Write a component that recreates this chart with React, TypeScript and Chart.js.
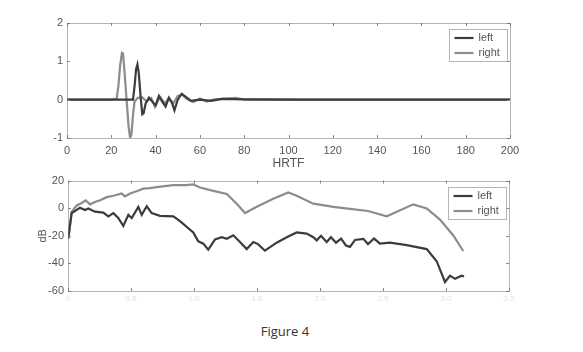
import React, { useEffect, useRef } from "react";
import { Chart, registerables } from "chart.js";

Chart.register(...registerables);

// ---------- Top plot: HRTF impulse responses ----------
const IR_X_TICKS = [0, 20, 40, 60, 80, 100, 120, 140, 160, 180, 200];
const IR_Y_TICKS = [-1, 0, 1, 2];

const IR_X_RIGHT = [0, 20, 22.4, 23.2, 24, 24.8, 25.3, 26, 26.9, 27.8, 28.5, 29.1, 29.8, 30.5, 32, 34, 36, 38, 39.7, 42, 44.2, 46, 48, 50, 52, 54, 57, 60, 63, 66, 70, 76, 80, 90, 110, 140, 200];
const IR_Y_RIGHT = [0, 0, 0.02, 0.35, 0.9, 1.22, 1.2, 0.7, 0.0, -0.7, -1.0, -0.9, -0.4, -0.05, 0.05, 0.06, -0.05, 0.04, -0.19, 0.07, -0.1, 0.05, -0.1, 0.1, 0.13, 0.02, -0.06, 0.03, -0.05, 0.0, 0.02, 0.05, 0.0, 0.01, 0.0, 0.0, 0.0];

const IR_X_LEFT = [0, 20, 29.8, 30.5, 31.2, 31.8, 32.4, 33.2, 34, 34.6, 35.5, 37, 38.5, 40, 41.5, 43, 44.5, 46, 47.5, 48.5, 50, 51.8, 53.5, 56, 60, 65, 70, 80, 100, 130, 160, 200];
const IR_Y_LEFT = [0, 0, 0.0, 0.35, 0.8, 0.92, 0.7, 0.1, -0.38, -0.35, -0.1, 0.05, -0.05, -0.15, 0.1, -0.05, -0.18, 0.05, -0.1, -0.28, 0.0, 0.15, 0.08, -0.03, 0.0, -0.03, 0.02, 0.01, 0.0, 0.0, 0.0, 0.0];

// ---------- Bottom plot: magnitude responses (dB) ----------
const FR_X_TICKS = [0, 0.5, 1, 1.5, 2, 2.5, 3, 3.5];
const FR_Y_TICKS = [-60, -40, -20, 0, 20];

const FR_X_RIGHT = [0.002, 0.029, 0.069, 0.109, 0.14, 0.175, 0.214, 0.26, 0.307, 0.36, 0.426, 0.452, 0.492, 0.55, 0.598, 0.65, 0.704, 0.77, 0.836, 0.942, 0.994, 1.048, 1.153, 1.26, 1.339, 1.405, 1.498, 1.629, 1.748, 1.815, 1.947, 2.106, 2.238, 2.381, 2.53, 2.74, 2.847, 2.952, 3.058, 3.137];
const FR_Y_RIGHT = [-22, -2.5, 2, 3.8, 5.6, 2.8, 4.5, 6, 8, 9, 10.7, 8.6, 10.7, 12.5, 14.2, 14.6, 15.3, 16, 16.7, 16.7, 17.2, 15, 12.6, 10.3, 3.3, -3.5, 1, 6.8, 11.4, 9.1, 3.3, 1, -0.5, -2, -5.9, 2.8, -0.2, -8.3, -19.8, -31];

const FR_X_LEFT = [0.002, 0.029, 0.095, 0.135, 0.161, 0.214, 0.28, 0.32, 0.36, 0.399, 0.439, 0.479, 0.506, 0.558, 0.585, 0.625, 0.664, 0.73, 0.836, 0.889, 0.994, 1.034, 1.074, 1.113, 1.167, 1.22, 1.26, 1.312, 1.365, 1.418, 1.471, 1.508, 1.563, 1.656, 1.736, 1.815, 1.894, 1.947, 1.974, 2.008, 2.053, 2.087, 2.127, 2.167, 2.206, 2.238, 2.278, 2.344, 2.381, 2.429, 2.476, 2.556, 2.688, 2.847, 2.926, 2.992, 3.032, 3.071, 3.125, 3.143];
const FR_Y_LEFT = [-22, -3.6, 0.3, -1.3, -0.2, -2.5, -3.2, -5.9, -3.6, -7.1, -12.9, -4.8, -7.1, 1, -4.8, 1.4, -3.6, -5.5, -5.9, -9.4, -17.6, -24, -25.7, -30, -22.6, -21, -22.2, -19.6, -24.5, -29.6, -24.5, -26, -30.8, -25, -21, -17.6, -18.4, -21, -23.3, -20, -24.5, -21, -25, -22, -27, -28, -23, -22.2, -26, -22, -25.7, -25, -26.8, -29.6, -38.4, -53.5, -48.9, -51.2, -48.9, -49.5];

const SERIES_NAMES = ["left", "right"];
const LEFT_COLOR = "#3c3c3c";
const RIGHT_COLOR = "#8c8c8c";
const FONT = "'Liberation Sans Narrow', 'Liberation Sans', Arial, sans-serif";

const pts = (xs: number[], ys: number[]) => xs.map((x, i) => ({ x, y: ys[i] }));

const framePlugin = {
  id: "frame",
  afterDatasetsDraw(chart: any) {
    const { ctx, chartArea: a, scales } = chart;
    ctx.save();
    ctx.strokeStyle = "#8a8a8a";
    ctx.lineWidth = 1;
    const L = 3;
    ctx.beginPath();
    scales.x.ticks.forEach((t: any) => {
      const px = Math.round(scales.x.getPixelForValue(t.value)) + 0.5;
      ctx.moveTo(px, a.bottom);
      ctx.lineTo(px, a.bottom - L);
      ctx.moveTo(px, a.top);
      ctx.lineTo(px, a.top + L);
    });
    scales.y.ticks.forEach((t: any) => {
      const py = Math.round(scales.y.getPixelForValue(t.value)) + 0.5;
      ctx.moveTo(a.left, py);
      ctx.lineTo(a.left + L, py);
      ctx.moveTo(a.right, py);
      ctx.lineTo(a.right - L, py);
    });
    ctx.stroke();
    ctx.strokeStyle = "#6a6a6a";
    ctx.setLineDash([1, 1]);
    ctx.strokeRect(Math.round(a.left) + 0.5, Math.round(a.top) + 0.5, Math.round(a.right - a.left), Math.round(a.bottom - a.top));
    ctx.setLineDash([]);

    // legend box
    const w = 58, h = 32;
    const bx = Math.round(a.right - 3.5 - w) + 0.5;
    const by = Math.round(a.top + 6) + 0.5;
    ctx.fillStyle = "#ffffff";
    ctx.fillRect(bx, by, w, h);
    ctx.setLineDash([1, 1]);
    ctx.strokeStyle = "#6a6a6a";
    ctx.strokeRect(bx, by, w, h);
    ctx.setLineDash([]);
    const colors = [LEFT_COLOR, RIGHT_COLOR];
    ctx.font = `11px ${FONT}`;
    ctx.textBaseline = "middle";
    SERIES_NAMES.forEach((name, i) => {
      const yy = by + 8.5 + i * 15;
      ctx.strokeStyle = colors[i];
      ctx.lineWidth = 2.2;
      ctx.beginPath();
      ctx.moveTo(bx + 5, yy);
      ctx.lineTo(bx + 24, yy);
      ctx.stroke();
      ctx.fillStyle = "#555";
      ctx.fillText(name, bx + 29, yy);
    });
    ctx.restore();
  },
};

function makeConfig(opts: any) {
  const { dsLeft, dsRight, xMin, xMax, xStep, yMin, yMax, yStep, yWidth, xHeight, padTop, padRight, xTitle, yTitle, xTickColor, xTickFont, xTickPad } = opts;
  return {
    type: "line" as const,
    data: {
      datasets: [
        { label: SERIES_NAMES[0], data: dsLeft, borderColor: LEFT_COLOR, borderWidth: 2.2, pointRadius: 0, tension: 0, fill: false },
        { label: SERIES_NAMES[1], data: dsRight, borderColor: RIGHT_COLOR, borderWidth: 2.2, pointRadius: 0, tension: 0, fill: false },
      ],
    },
    options: {
      animation: false,
      responsive: false,
      maintainAspectRatio: false,
      layout: { padding: { top: padTop, right: padRight, left: 0, bottom: 0 } },
      plugins: { legend: { display: false }, tooltip: { enabled: false } },
      scales: {
        x: {
          type: "linear",
          min: xMin,
          max: xMax,
          afterBuildTicks: (s: any) => { s.ticks = opts.xTicks.map((v: number) => ({ value: v })); },
          ticks: { stepSize: xStep, color: xTickColor, font: { family: FONT, size: xTickFont }, padding: xTickPad, maxRotation: 0, autoSkip: false },
          grid: { display: false, drawTicks: false },
          border: { display: false },
          title: xTitle ? { display: true, text: xTitle, color: "#555", font: { family: FONT, size: 12 }, padding: { top: 0, bottom: 1 } } : { display: false },
          afterFit: (s: any) => { s.height = xHeight; },
        },
        y: {
          type: "linear",
          min: yMin,
          max: yMax,
          afterBuildTicks: (s: any) => { s.ticks = opts.yTicks.map((v: number) => ({ value: v })); },
          ticks: { stepSize: yStep, color: "#555", font: { family: FONT, size: 11 }, padding: 4, autoSkip: false },
          grid: { display: false, drawTicks: false },
          border: { display: false },
          title: yTitle ? { display: true, text: yTitle, color: "#555", font: { family: FONT, size: 11 }, padding: { top: 36, bottom: 0 } } : { display: false },
          afterFit: (s: any) => { s.width = yWidth; },
        },
      },
    },
    plugins: [framePlugin],
  };
}

export default function App() {
  const topRef = useRef<HTMLCanvasElement>(null);
  const botRef = useRef<HTMLCanvasElement>(null);

  useEffect(() => {
    const top = new Chart(topRef.current as HTMLCanvasElement, makeConfig({
      dsLeft: pts(IR_X_LEFT, IR_Y_LEFT),
      dsRight: pts(IR_X_RIGHT, IR_Y_RIGHT),
      xMin: 0, xMax: 200, xStep: 20, yMin: -1, yMax: 2, yStep: 1,
      xTicks: IR_X_TICKS, yTicks: IR_Y_TICKS,
      yWidth: 67, xHeight: 34, padTop: 23, padRight: 73,
      xTitle: "HRTF", yTitle: "", xTickColor: "#555", xTickFont: 11, xTickPad: 6,
    }) as any);
    const bot = new Chart(botRef.current as HTMLCanvasElement, makeConfig({
      dsLeft: pts(FR_X_LEFT, FR_Y_LEFT),
      dsRight: pts(FR_X_RIGHT, FR_Y_RIGHT),
      xMin: 0, xMax: 3.5, xStep: 0.5, yMin: -60, yMax: 20, yStep: 20,
      xTicks: FR_X_TICKS, yTicks: FR_Y_TICKS,
      yWidth: 68, xHeight: 19, padTop: 6, padRight: 74,
      xTitle: "", yTitle: "dB", xTickColor: "#e2e2e2", xTickFont: 8, xTickPad: 3,
    }) as any);
    return () => { top.destroy(); bot.destroy(); };
  }, []);

  return (
    <div style={{ position: "absolute", left: 0, top: 0, width: 583, height: 352, background: "#fff", overflow: "hidden" }}>
      <canvas ref={topRef} width={583} height={172} style={{ position: "absolute", left: 0, top: 0, width: 583, height: 172 }} />
      <canvas ref={botRef} width={583} height={140} style={{ position: "absolute", left: 0, top: 170, width: 583, height: 140 }} />
      <div style={{ position: "absolute", left: 215, top: 322, width: 140, textAlign: "center", fontFamily: "'Open Sans', 'Noto Sans', sans-serif", fontSize: 13, color: "#333" }}>
        Figure 4
      </div>
    </div>
  );
}
